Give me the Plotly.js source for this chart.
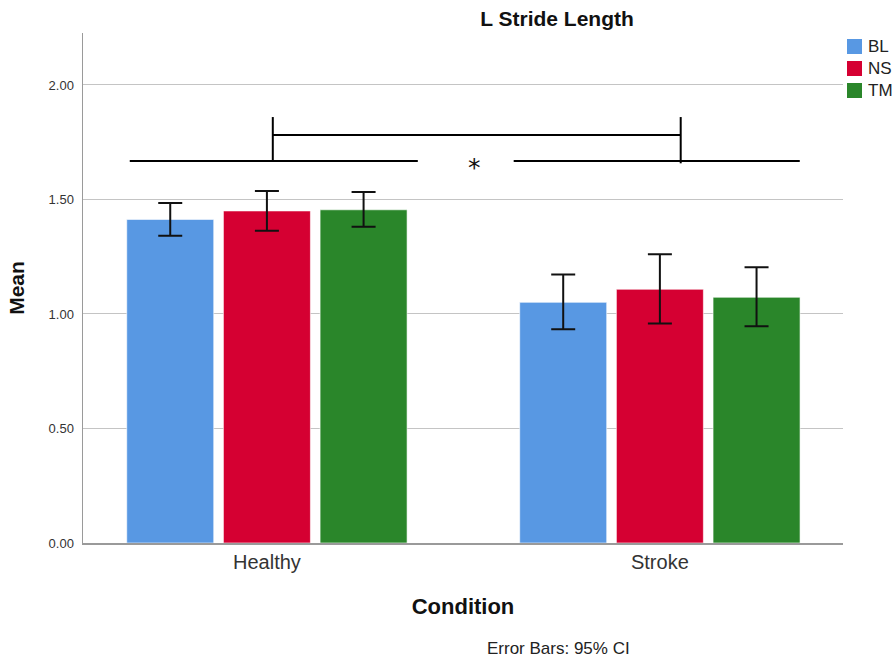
<!DOCTYPE html>
<html>
<head>
<meta charset="utf-8">
<script src="https://cdn.plot.ly/plotly-3.0.1.min.js"></script>
<style>
  html, body { margin: 0; padding: 0; background: #ffffff; }
  #chart { width: 893px; height: 661px; }
</style>
</head>
<body>
<div id="chart"></div>
<script>
// Groups on the x axis
const categories = ['Healthy', 'Stroke'];

// Mean stride length per session, with 95% CI limits
const blMean = [1.413, 1.051];
const blUpper = [1.485, 1.172];
const blLower = [1.342, 0.933];

const nsMean = [1.450, 1.108];
const nsUpper = [1.537, 1.261];
const nsLower = [1.364, 0.958];

const tmMean = [1.455, 1.073];
const tmUpper = [1.533, 1.204];
const tmLower = [1.381, 0.946];

const seriesNames = ['BL', 'NS', 'TM'];
const seriesColors = ['#5898e3', '#d50032', '#2a862a'];

const yTicks = [0, 0.5, 1.0, 1.5, 2.0];

// Significance bracket: two group spans joined by a linking bar
const bracketSpanY = 1.668;
const bracketLinkY = 1.782;
const bracketTopY = 1.86;
const leftSpan = [-0.349, 0.384];
const rightSpan = [0.628, 1.356];
const leftPost = 0.015;
const rightPost = 1.053;
const starPos = [0.527, 1.638];

const FONT = 'Liberation Sans, Arial, Helvetica, sans-serif';

// Plot box in pixels (fixed margins)
const W = 893, H = 661;
const M = { l: 83, r: 50, t: 33, b: 118 };
const plotW = W - M.l - M.r;
const plotH = H - M.t - M.b;
const px2x = p => (p - M.l) / plotW;
const px2y = p => (H - M.b - p) / plotH;

function barTrace(name, mean, upper, lower, color) {
  return {
    type: 'bar',
    name: name,
    x: categories,
    y: mean,
    marker: { color: color, line: { color: 'rgba(255,255,255,0.6)', width: 1 } },
    error_y: {
      type: 'data',
      symmetric: false,
      array: upper.map((u, i) => u - mean[i]),
      arrayminus: lower.map((l, i) => mean[i] - l),
      color: '#111111',
      thickness: 2,
      width: 12
    },
    hoverinfo: 'x+y+name'
  };
}

const traces = [
  barTrace(seriesNames[0], blMean, blUpper, blLower, seriesColors[0]),
  barTrace(seriesNames[1], nsMean, nsUpper, nsLower, seriesColors[1]),
  barTrace(seriesNames[2], tmMean, tmUpper, tmLower, seriesColors[2])
];

const lineStyle = { color: '#000000', width: 2 };
function seg(x0, y0, x1, y1) {
  return { type: 'line', xref: 'x', yref: 'y', x0: x0, y0: y0, x1: x1, y1: y1, line: lineStyle };
}

const shapes = [
  seg(leftSpan[0], bracketSpanY, leftSpan[1], bracketSpanY),
  seg(rightSpan[0], bracketSpanY, rightSpan[1], bracketSpanY),
  seg(leftPost, bracketSpanY, leftPost, bracketTopY),
  seg(rightPost, bracketSpanY - 0.01, rightPost, bracketTopY),
  seg(leftPost, bracketLinkY, rightPost, bracketLinkY)
];

const annotations = [
  {
    text: '*',
    xref: 'x', yref: 'y',
    x: starPos[0], y: starPos[1],
    showarrow: false,
    font: { family: 'DejaVu Sans, sans-serif', size: 25, color: '#111111' }
  },
  {
    text: 'Error Bars: 95% CI',
    xref: 'paper', yref: 'paper',
    x: px2x(558), y: px2y(648),
    xanchor: 'center', yanchor: 'middle',
    showarrow: false,
    font: { family: FONT, size: 17, color: '#222222' }
  }
];

// Legend: colour key drawn in the right margin
const keyTop = 39, keyStep = 22, keySize = 15, keyLeft = 847, keyTextLeft = 866;
seriesNames.forEach((name, i) => {
  const top = keyTop + i * keyStep;
  shapes.push({
    type: 'rect', xref: 'paper', yref: 'paper',
    x0: px2x(keyLeft), x1: px2x(keyLeft + keySize),
    y0: px2y(top + keySize), y1: px2y(top),
    fillcolor: seriesColors[i], line: { width: 0 }
  });
  annotations.push({
    text: name, xref: 'paper', yref: 'paper',
    x: px2x(keyTextLeft), y: px2y(top + keySize / 2),
    xanchor: 'left', yanchor: 'middle', showarrow: false,
    font: { family: FONT, size: 17, color: '#222222' }
  });
});

const layout = {
  width: W,
  height: H,
  margin: { l: M.l, r: M.r, t: M.t, b: M.b, autoexpand: false },
  paper_bgcolor: '#ffffff',
  plot_bgcolor: '#ffffff',
  font: { family: FONT, color: '#222222' },
  barmode: 'group',
  bargap: 0.262,
  bargroupgap: 0.1,
  showlegend: false,
  title: {
    text: '<b>L Stride Length</b>',
    font: { family: FONT, size: 21, color: '#111111' },
    xref: 'paper', x: px2x(557), xanchor: 'center',
    yref: 'container', y: 1 - 19 / H, yanchor: 'middle'
  },
  xaxis: {
    type: 'category',
    range: [-0.468, 1.466],
    showgrid: false,
    showline: true,
    linecolor: '#9a9a9a',
    linewidth: 1.5,
    ticks: '',
    tickfont: { family: FONT, size: 20, color: '#333333' },
    title: {
      text: '<b>Condition</b>',
      font: { family: FONT, size: 22, color: '#111111' },
      standoff: 27
    },
    zeroline: false,
    fixedrange: true
  },
  yaxis: {
    range: [0, 2.227],
    tickvals: yTicks,
    tickformat: '.2f',
    showgrid: true,
    gridcolor: '#c4c4c4',
    gridwidth: 1,
    showline: true,
    linecolor: '#9a9a9a',
    linewidth: 1.5,
    ticks: 'outside',
    ticklen: 5,
    tickcolor: 'rgba(0,0,0,0)',
    tickfont: { family: FONT, size: 13, color: '#333333' },
    zeroline: false,
    title: {
      text: '<b>Mean</b>',
      font: { family: FONT, size: 21, color: '#111111' },
      standoff: 18
    },
    fixedrange: true
  },
  shapes: shapes,
  annotations: annotations
};

Plotly.newPlot('chart', traces, layout, { displayModeBar: false, staticPlot: true });
</script>
</body>
</html>
